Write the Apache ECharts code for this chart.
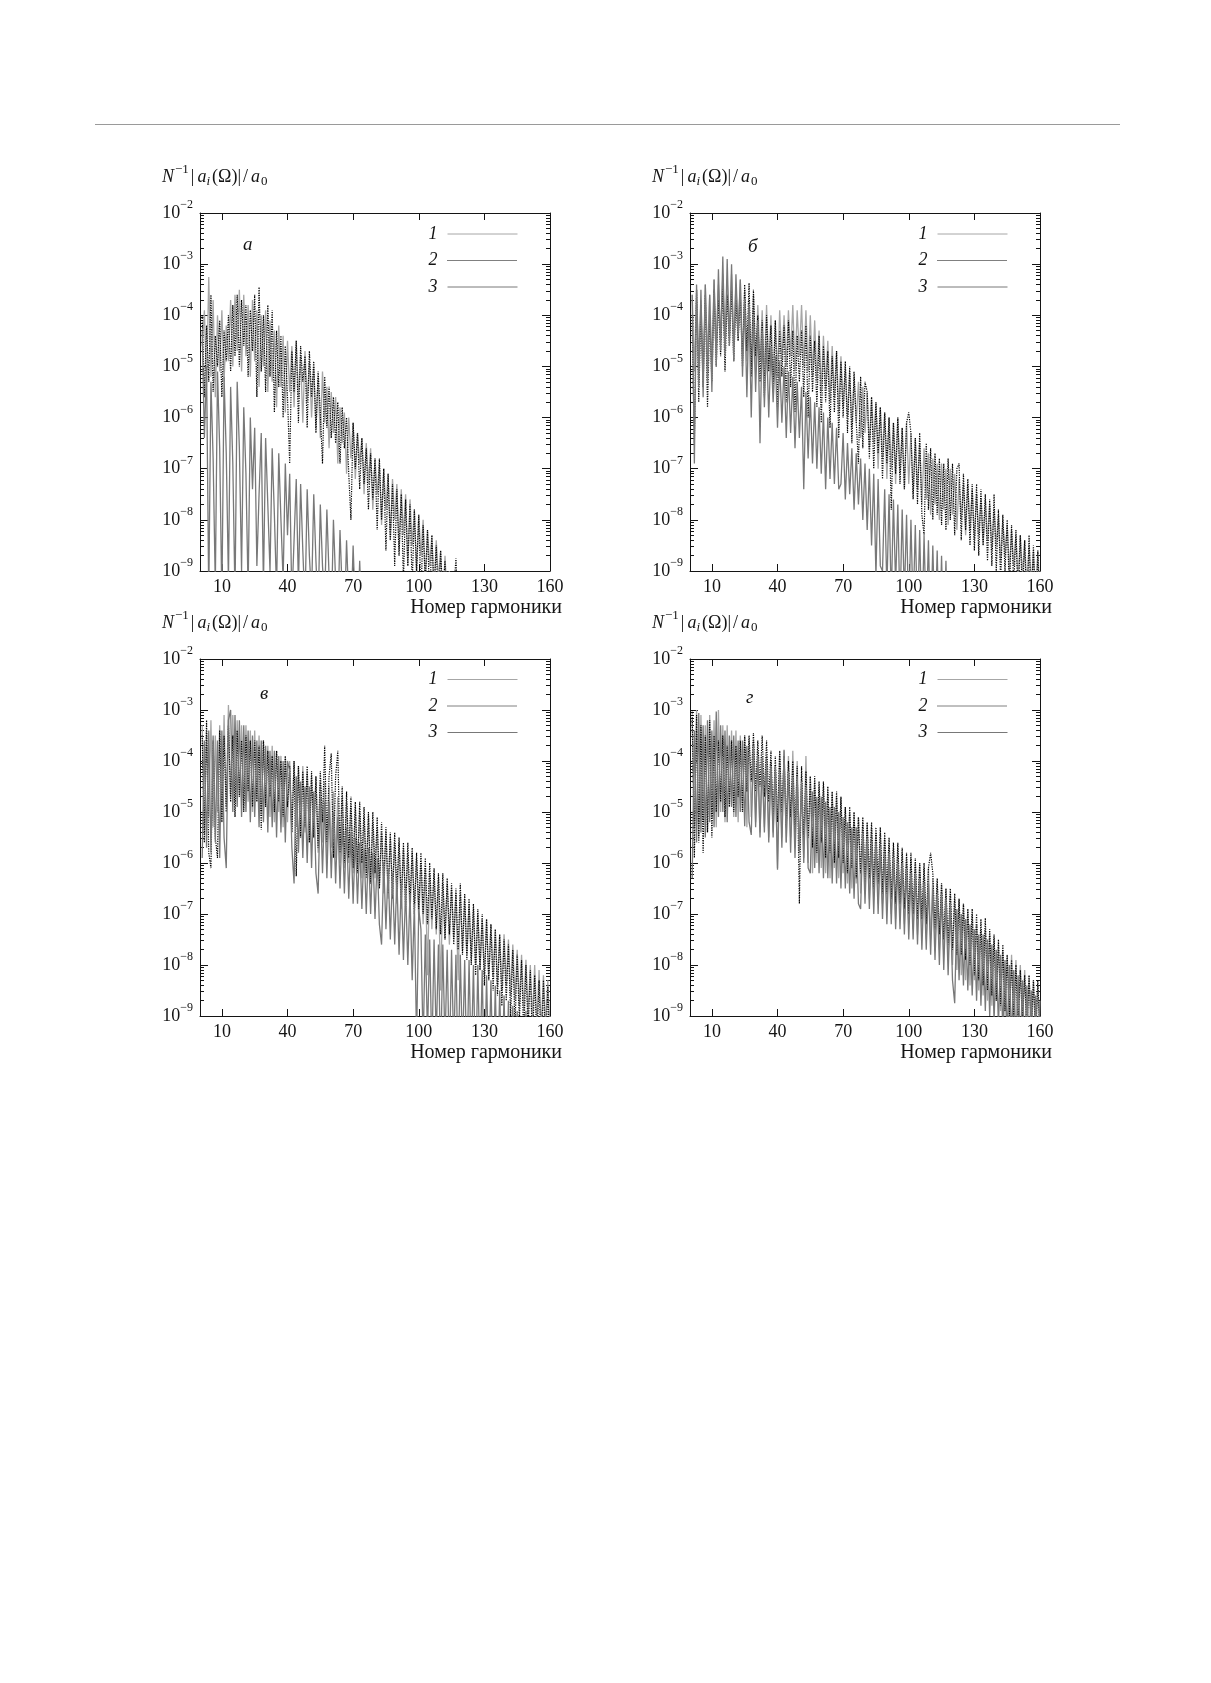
<!DOCTYPE html>
<html><head><meta charset="utf-8">
<script src="https://cdn.jsdelivr.net/npm/echarts@6/dist/echarts.min.js"></script>
<style>
html,body{margin:0;padding:0;background:#fff;}
#chart{width:1211px;height:1683px;}
#rule{position:absolute;left:95px;top:124px;width:1025px;height:1px;background:#9a9a9a;}
</style></head>
<body>
<div id="chart"></div>
<div id="rule"></div>
<script>
// Values are log10( N^-1 |a_i(Omega)| / a_0 ) for harmonic number i = 1, 2, 3, ...
const xTickValues = [10, 40, 70, 100, 130, 160];
const yDecades = [-9, -8, -7, -6, -5, -4, -3, -2];
const panelLetters = ['а', 'б', 'в', 'г'];
const seriesNames = ['1', '2', '3'];
const xAxisTitle = 'Номер гармоники';

// Panel а
const panelA_s1 = [-4.6,-3.9,-5.4,-3.25,-5.2,-3.7,-5.6,-4.0,-5.1,-3.9,
 -5.3,-4.2,-4.9,-3.7,-5.0,-3.6,-4.7,-3.5,-5.1,-3.6,
 -4.8,-3.8,-5.2,-3.7,-4.9,-3.9,-5.4,-4.0,-5.0,-3.9,
 -5.5,-4.1,-5.3,-4.3,-5.8,-4.2,-5.4,-4.4,-5.9,-4.5,
 -5.5,-4.6,-5.8,-4.5,-5.6,-4.8,-6.1,-4.7,-5.7,-4.9,
 -6.0,-5.0,-6.2,-5.2,-6.4,-5.1,-6.1,-5.4,-6.6,-5.5,
 -6.3,-5.6,-6.9,-5.8,-6.5,-5.9,-7.1,-6.0,-6.8,-6.1,
 -7.2,-6.3,-6.9,-6.4,-7.5,-6.5,-7.3,-6.6,-7.8,-6.8,
 -7.5,-6.9,-8.1,-7.0,-7.8,-7.1,-8.4,-7.2,-8.0,-7.3,
 -8.6,-7.4,-8.3,-7.5,-8.9,-7.6,-8.5,-7.8,-9.1,-7.9,
 -8.7,-8.0,-9.3,-8.2,-8.9,-8.3,-9.5,-8.4,-9.2,-8.6,
 -9.7,-8.7,-9.6,-9.0,-10,-9.3,-10,-9.6,-10.2,-10];
const panelA_s2 = [-4.0,-5.6,-4.2,-5.3,-3.6,-5.5,-4.4,-5.0,-4.1,-5.6,
 -4.3,-4.9,-4.0,-5.1,-3.8,-4.8,-3.6,-5.0,-3.7,-4.6,
 -3.8,-5.2,-3.9,-4.7,-3.6,-5.6,-3.45,-5.1,-4.0,-5.5,
 -3.8,-5.2,-3.9,-5.9,-4.3,-5.4,-4.4,-6.0,-4.6,-5.6,
 -6.9,-4.7,-5.5,-4.5,-6.1,-4.6,-5.3,-4.8,-6.2,-4.7,
 -5.6,-4.9,-6.3,-5.1,-5.9,-6.9,-5.2,-6.2,-5.4,-6.4,
 -5.6,-6.5,-5.7,-6.9,-5.8,-6.6,-6.0,-7.1,-8.0,-6.1,
 -7.0,-6.3,-7.4,-6.4,-7.3,-6.6,-7.8,-6.7,-7.6,-6.8,
 -8.2,-6.8,-8.0,-7.0,-8.6,-7.1,-8.4,-7.3,-8.9,-7.4,
 -8.7,-7.5,-9.2,-7.6,-8.9,-7.7,-9.3,-7.8,-9.0,-7.9,
 -9.5,-8.1,-9.2,-8.2,-9.6,-8.3,-9.4,-8.5,-9.8,-8.6,
 -9.5,-8.8,-10,-9.2,-10,-9.4,-8.75,-9.8,-10,-10];
const panelA_s3 = [-4.3,-6.4,-5.0,-9.5,-5.3,-6.8,-9.3,-5.1,-6.6,-9.6,
 -5.2,-6.7,-9.2,-5.4,-6.9,-9.5,-5.3,-6.6,-9.0,-5.8,
 -7.1,-9.4,-6.0,-7.4,-6.2,-8.9,-7.5,-6.3,-9.3,-6.4,
 -7.7,-9.0,-6.6,-7.9,-9.4,-6.7,-8.0,-9.2,-6.9,-8.3,
 -7.1,-9.6,-8.4,-7.2,-9.3,-7.3,-8.6,-9.7,-7.4,-8.7,
 -9.5,-7.5,-8.8,-9.8,-7.7,-8.9,-9.6,-7.8,-9.1,-10,
 -8.0,-9.2,-10,-8.2,-9.4,-10,-8.4,-9.6,-10,-8.5,
 -9.8,-10.2,-8.8,-10,-10.4,-9.3,-10.5,-10.5,-10.8,-11];

// Panel б
const panelB_s1 = [-3.6,-5.1,-3.5,-4.9,-3.7,-5.2,-3.4,-4.8,-3.6,-5.0,
 -3.3,-4.6,-3.4,-4.5,-3.2,-4.7,-3.3,-4.4,-3.2,-4.6,
 -3.4,-4.5,-3.3,-4.8,-3.5,-4.9,-3.7,-5.0,-3.6,-5.1,
 -3.8,-4.9,-3.9,-5.2,-3.8,-5.1,-4.0,-5.3,-4.1,-5.2,
 -3.9,-4.9,-4.0,-5.0,-3.9,-4.8,-3.8,-5.1,-3.9,-4.8,
 -3.8,-5.0,-3.9,-5.1,-4.0,-5.2,-4.1,-5.3,-4.3,-5.5,
 -4.4,-5.4,-4.5,-5.7,-4.6,-5.6,-4.7,-5.9,-4.8,-5.8,
 -5.0,-6.0,-5.1,-6.2,-5.2,-6.1,-5.3,-6.4,-5.4,-6.3,
 -5.5,-6.6,-5.6,-6.5,-5.7,-7.0,-5.8,-6.8,-5.9,-7.2,
 -6.0,-7.0,-6.1,-7.3,-6.0,-7.1,-6.2,-7.4,-6.1,-7.3,
 -6.3,-7.5,-6.4,-7.4,-6.5,-7.7,-6.6,-7.6,-6.7,-7.9,
 -6.8,-7.7,-6.9,-8.0,-6.9,-7.8,-7.0,-8.1,-7.0,-7.9,
 -7.1,-8.2,-7.2,-8.0,-7.3,-8.3,-7.3,-8.2,-7.4,-8.4,
 -7.5,-8.3,-7.6,-8.5,-7.6,-8.4,-7.7,-8.6,-7.8,-8.5,
 -7.9,-8.8,-8.0,-8.7,-8.1,-9.0,-8.2,-8.9,-8.3,-9.2,
 -8.3,-9.1,-8.4,-9.4,-8.5,-9.3,-8.6,-9.6,-8.6,-9.5];
const panelB_s2 = [-4.2,-6.5,-3.5,-5.7,-3.8,-5.4,-3.6,-5.8,-4.0,-5.3,
 -3.5,-5.0,-3.7,-4.8,-3.4,-5.1,-3.6,-4.6,-3.5,-4.9,
 -3.7,-4.5,-3.6,-5.0,-3.4,-4.7,-3.37,-5.2,-3.5,-4.8,
 -4.0,-5.3,-4.1,-5.6,-4.0,-5.1,-4.2,-5.5,-4.1,-5.8,
 -4.3,-5.2,-4.2,-5.7,-4.1,-5.4,-4.3,-5.9,-4.4,-5.3,
 -4.3,-5.6,-4.2,-6.0,-4.4,-5.5,-4.5,-5.8,-4.4,-6.1,
 -4.6,-5.7,-4.7,-6.2,-4.8,-5.9,-4.7,-6.4,-4.9,-6.0,
 -4.9,-6.3,-5.0,-6.5,-5.1,-6.1,-6.9,-5.2,-6.6,-5.3,
 -5.5,-6.8,-5.6,-7.0,-5.7,-6.7,-5.8,-7.2,-5.9,-6.9,
 -6.0,-7.8,-6.1,-7.1,-6.0,-7.3,-6.2,-7.4,-6.1,-5.9,
 -6.3,-7.6,-6.4,-7.7,-6.3,-7.9,-8.3,-6.5,-7.8,-6.6,
 -8.0,-6.7,-7.9,-6.8,-8.1,-6.9,-8.2,-6.8,-8.0,-6.9,
 -8.3,-7.0,-6.9,-8.4,-7.1,-8.2,-7.2,-8.5,-7.3,-8.6,
 -7.3,-8.7,-7.4,-8.5,-7.5,-8.8,-7.6,-8.9,-7.5,-9.0,
 -7.8,-9.2,-7.9,-9.0,-8.0,-9.4,-8.1,-9.3,-8.2,-9.6,
 -8.3,-9.5,-8.4,-9.8,-8.3,-9.7,-8.5,-10,-8.6,-9.9];
const panelB_s3 = [-3.6,-6.9,-3.4,-5.4,-3.5,-5.6,-3.4,-5.3,-3.6,-5.5,
 -3.3,-5.0,-3.1,-4.7,-2.85,-4.8,-2.9,-4.6,-3.0,-4.9,
 -3.2,-4.4,-3.3,-5.2,-3.7,-5.6,-3.8,-6.0,-4.0,-5.5,
 -4.1,-6.5,-4.3,-5.8,-4.5,-6.0,-4.6,-5.7,-4.8,-6.2,
 -4.9,-6.1,-5.0,-6.4,-5.1,-6.3,-5.2,-6.6,-5.3,-6.4,
 -5.4,-7.4,-5.5,-6.8,-5.6,-6.9,-5.7,-7.0,-5.8,-7.1,
 -5.9,-7.4,-6.0,-7.2,-6.1,-7.3,-6.2,-7.4,-7.3,-6.3,
 -7.6,-6.5,-7.5,-6.6,-7.8,-6.7,-7.7,-6.8,-8.0,-6.9,
 -8.2,-7.0,-8.5,-7.1,-9.1,-7.2,-8.9,-9.0,-7.4,-9.4,
 -7.5,-9.6,-7.6,-9.3,-7.7,-9.8,-7.8,-9.5,-7.9,-10,
 -8.0,-9.8,-8.1,-10,-8.2,-10.2,-8.3,-10,-8.4,-10.3,
 -8.5,-10.2,-8.6,-10.5,-8.7,-10.5,-8.8,-10.6,-9.6,-10.8];

// Panel в
const panelC_s1 = [-3.3,-5.4,-3.4,-5.1,-3.2,-5.3,-3.5,-5.0,-3.3,-5.2,
 -3.1,-4.9,-2.9,-4.7,-3.1,-4.8,-3.2,-4.7,-3.3,-4.9,
 -3.3,-4.8,-3.4,-5.0,-3.4,-4.8,-3.5,-5.0,-3.6,-4.9,
 -3.7,-5.1,-3.7,-5.2,-3.8,-5.0,-3.9,-5.3,-3.9,-5.2,
 -4.0,-5.4,-4.0,-5.3,-4.1,-5.5,-4.1,-5.4,-4.2,-5.6,
 -4.3,-5.5,-4.3,-5.8,-4.4,-5.6,-4.4,-5.9,-4.5,-5.7,
 -4.6,-5.9,-4.7,-6.0,-4.7,-6.1,-4.8,-6.0,-4.9,-6.2,
 -4.9,-6.1,-5.0,-6.3,-5.1,-6.2,-5.1,-6.4,-5.2,-6.3,
 -5.3,-6.5,-5.4,-6.6,-5.4,-6.7,-5.5,-6.6,-5.6,-6.8,
 -5.6,-6.9,-5.7,-6.8,-5.8,-7.0,-5.8,-6.9,-5.9,-7.1,
 -6.0,-7.2,-6.1,-8.2,-6.2,-7.3,-6.2,-7.4,-6.3,-8.5,
 -6.4,-7.5,-6.4,-7.6,-6.5,-7.5,-6.6,-8.3,-6.6,-7.7,
 -6.7,-7.8,-6.8,-7.9,-6.9,-8.0,-7.0,-8.1,-7.1,-8.2,
 -7.1,-8.3,-7.2,-8.2,-7.3,-8.4,-7.4,-8.5,-7.4,-8.4,
 -7.5,-8.6,-7.6,-8.7,-7.7,-8.8,-7.8,-8.9,-7.9,-9.0,
 -8.0,-9.1,-8.0,-9.2,-8.1,-9.3,-8.2,-9.2,-8.3,-9.3];
const panelC_s2 = [-3.5,-5.6,-3.2,-5.8,-6.1,-3.6,-5.5,-5.9,-3.4,-5.2,
 -3.5,-5.0,-3.3,-4.8,-3.5,-5.1,-3.4,-4.7,-3.6,-5.0,
 -3.5,-4.6,-3.6,-4.9,-3.6,-4.8,-3.7,-5.35,-3.6,-4.9,
 -3.8,-4.7,-3.9,-5.0,-3.8,-4.8,-4.0,-5.1,-3.9,-4.9,
 -4.1,-5.4,-4.0,-6.26,-4.1,-5.5,-4.2,-5.3,-4.1,-5.6,
 -4.2,-5.5,-4.3,-5.7,-4.2,-5.2,-3.7,-5.6,-4.3,-3.85,
 -5.9,-4.3,-3.8,-5.8,-4.5,-6.0,-4.6,-5.9,-4.7,-6.1,
 -4.8,-6.2,-4.8,-6.0,-4.9,-6.3,-5.0,-6.4,-5.0,-6.2,
 -5.1,-6.5,-5.2,-6.4,-5.3,-6.6,-5.4,-6.7,-5.4,-6.6,
 -5.5,-6.8,-5.6,-6.9,-5.6,-6.8,-5.7,-7.0,-5.8,-6.9,
 -5.8,-7.0,-5.9,-7.2,-6.0,-7.1,-6.1,-7.3,-6.2,-7.4,
 -6.2,-7.5,-6.3,-7.4,-6.4,-7.6,-6.5,-7.7,-6.4,-7.8,
 -6.6,-7.9,-6.7,-8.0,-6.8,-8.2,-6.9,-8.1,-7.0,-8.4,
 -7.1,-8.3,-7.2,-8.5,-7.3,-8.6,-7.4,-8.8,-7.5,-8.7,
 -7.6,-9.0,-7.7,-9.2,-7.8,-9.1,-7.9,-9.4,-8.0,-9.3,
 -8.1,-9.6,-8.2,-9.5,-8.3,-9.8,-8.3,-9.7,-8.4,-10];
const panelC_s3 = [-5.9,-3.6,-5.7,-3.4,-5.8,-3.5,-5.6,-3.6,-5.9,-3.4,
 -5.5,-6.1,-3.2,-3.0,-5.0,-3.1,-4.9,-3.2,-5.1,-3.3,
 -5.0,-3.4,-5.2,-3.5,-5.1,-3.6,-5.3,-3.6,-5.2,-3.7,
 -5.4,-3.8,-5.3,-3.8,-5.5,-3.9,-5.4,-4.0,-5.6,-4.0,
 -4.2,-5.7,-6.4,-4.3,-5.8,-4.4,-5.9,-4.5,-6.0,-4.5,
 -6.1,-4.6,-6.2,-6.6,-4.7,-6.2,-4.8,-6.3,-4.8,-6.3,
 -5.0,-6.4,-5.1,-6.5,-5.2,-6.6,-5.3,-6.7,-5.4,-6.8,
 -5.5,-6.8,-5.6,-6.9,-5.7,-7.0,-5.7,-7.0,-5.8,-7.1,
 -5.9,-7.2,-7.6,-6.0,-7.3,-6.1,-7.5,-6.2,-7.6,-6.3,
 -7.8,-6.4,-7.9,-6.5,-8.0,-6.6,-8.3,-6.8,-9.5,-6.9,
 -7.3,-9.6,-7.4,-9.4,-7.5,-9.8,-7.5,-9.5,-7.6,-10,
 -7.6,-9.6,-7.7,-10,-7.7,-9.7,-7.8,-10.2,-7.8,-9.8,
 -7.9,-10.2,-7.9,-10,-8.0,-10.3,-8.0,-10.1,-8.1,-10.4,
 -8.2,-10.2,-8.3,-10.4,-8.4,-10.5,-8.5,-10.3,-8.6,-10.6,
 -8.7,-10.5,-8.8,-10.8,-8.9,-10.6,-9.1,-11,-8.9,-10.8,
 -9.3,-11,-9.2,-11,-9.5,-11,-9.4,-11,-9.6,-11];

// Panel г
const panelD_s1 = [-3.2,-5.3,-3.0,-5.5,-3.1,-5.2,-3.3,-5.4,-3.1,-5.1,
 -3.2,-5.3,-3.0,-5.0,-3.3,-5.2,-3.3,-4.9,-3.4,-5.1,
 -3.4,-5.2,-3.5,-5.0,-3.5,-5.3,-3.6,-5.1,-3.6,-5.2,
 -3.8,-5.4,-3.9,-5.3,-3.9,-5.5,-4.0,-5.4,-4.1,-6.1,
 -3.8,-5.5,-3.8,-5.6,-3.9,-5.5,-3.8,-5.7,-4.0,-5.8,
 -4.3,-5.9,-3.9,-6.0,-4.3,-6.2,-4.4,-6.0,-4.5,-6.1,
 -4.5,-6.2,-4.6,-6.3,-4.6,-6.1,-4.7,-6.3,-4.7,-6.2,
 -4.9,-6.4,-5.0,-6.5,-5.0,-6.4,-5.1,-6.6,-5.2,-6.5,
 -5.2,-6.7,-5.3,-6.6,-5.4,-6.8,-5.4,-6.8,-5.5,-6.9,
 -5.6,-7.0,-5.7,-7.1,-5.7,-7.0,-5.8,-7.2,-5.9,-7.2,
 -5.9,-7.3,-6.0,-7.4,-6.0,-7.3,-6.1,-7.5,-6.1,-7.5,
 -6.3,-7.6,-6.4,-7.7,-6.4,-7.8,-6.5,-7.9,-6.6,-8.0,
 -6.7,-8.1,-6.7,-8.2,-6.8,-8.3,-6.9,-8.4,-7.0,-8.3,
 -7.2,-8.5,-7.3,-8.6,-7.3,-8.7,-7.4,-8.8,-7.5,-8.7,
 -7.6,-8.9,-7.7,-9.0,-7.8,-9.1,-7.8,-9.2,-7.9,-9.3,
 -8.0,-9.2,-8.1,-9.4,-8.2,-9.5,-8.3,-9.4,-8.4,-9.6];
const panelD_s2 = [-3.0,-5.9,-3.1,-5.6,-3.3,-5.8,-3.5,-5.4,-3.2,-5.5,
 -3.5,-5.0,-3.6,-4.8,-3.5,-5.1,-3.7,-4.9,-3.6,-5.0,
 -3.7,-4.7,-3.6,-5.0,-3.5,-4.6,-3.5,-4.4,-3.45,-4.6,
 -3.6,-4.5,-3.5,-4.7,-3.6,-4.8,-3.8,-5.1,-3.9,-5.2,
 -3.8,-5.0,-3.9,-5.3,-4.0,-5.1,-4.0,-5.4,-4.1,-6.8,
 -4.1,-5.6,-4.2,-5.5,-4.3,-5.7,-4.3,-5.8,-4.4,-5.6,
 -4.4,-5.9,-4.5,-5.8,-4.6,-6.0,-4.6,-5.9,-4.7,-6.0,
 -4.9,-6.2,-4.9,-6.1,-5.0,-6.3,-5.1,-6.2,-5.1,-6.4,
 -5.2,-6.3,-5.2,-6.5,-5.3,-6.4,-5.3,-6.6,-5.4,-6.6,
 -5.5,-6.7,-5.6,-6.8,-5.6,-6.8,-5.7,-6.9,-5.8,-7.0,
 -5.8,-7.0,-5.9,-7.1,-6.0,-7.1,-6.0,-7.2,-6.1,-5.8,
 -6.2,-7.3,-6.3,-7.4,-6.4,-7.5,-6.5,-7.6,-6.5,-7.7,
 -6.6,-7.8,-6.7,-7.8,-6.8,-7.9,-6.9,-8.0,-6.9,-8.2,
 -7.0,-8.3,-7.1,-8.4,-7.08,-8.5,-7.3,-8.6,-7.4,-8.7,
 -7.5,-8.8,-7.6,-8.9,-7.8,-9.0,-7.9,-9.1,-8.0,-9.2,
 -8.1,-9.1,-8.2,-9.3,-8.2,-9.2,-8.3,-9.4,-8.3,-9.3];
const panelD_s3 = [-6.3,-3.4,-5.6,-3.06,-5.4,-3.3,-5.5,-3.2,-5.2,-3.4,
 -5.3,-3.03,-5.1,-3.3,-5.0,-3.4,-5.2,-3.5,-4.9,-3.5,
 -5.1,-3.6,-5.0,-3.6,-5.28,-3.7,-5.2,-5.45,-3.7,-5.3,
 -3.9,-5.5,-4.0,-5.4,-4.0,-5.6,-4.1,-5.5,-4.1,-6.13,
 -4.2,-5.7,-3.78,-5.6,-4.2,-5.8,-4.3,-5.9,-4.3,-5.8,
 -4.4,-6.0,-4.5,-6.1,-6.2,-4.6,-6.1,-4.7,-6.2,-4.7,
 -6.3,-4.8,-6.3,-4.9,-6.4,-4.9,-6.4,-5.0,-6.5,-5.1,
 -6.5,-5.2,-6.6,-5.3,-6.7,-5.3,-6.8,-6.9,-5.4,-6.8,
 -5.5,-6.9,-5.6,-7.0,-5.6,-7.0,-5.7,-7.1,-5.8,-7.2,
 -5.8,-7.2,-5.9,-7.3,-6.0,-7.3,-6.0,-7.4,-6.1,-7.5,
 -6.2,-7.5,-6.2,-7.6,-6.3,-7.7,-6.4,-7.7,-6.4,-7.8,
 -6.5,-7.9,-6.6,-8.0,-6.6,-8.1,-6.7,-8.2,-6.8,-8.3,
 -8.75,-6.9,-8.3,-7.0,-8.4,-7.1,-8.5,-7.2,-8.6,-7.3,
 -8.7,-7.4,-8.8,-7.4,-8.9,-7.5,-9.0,-7.6,-9.1,-7.7,
 -9.2,-7.8,-9.3,-7.9,-9.4,-8.0,-9.5,-8.1,-9.6,-8.2,
 -9.7,-8.3,-9.8,-8.4,-9.9,-8.5,-10,-8.6,-10.1,-8.7];

const panelData = [
  [panelA_s1, panelA_s2, panelA_s3],
  [panelB_s1, panelB_s2, panelB_s3],
  [panelC_s1, panelC_s2, panelC_s3],
  [panelD_s1, panelD_s2, panelD_s3]
];

// ---------- layout / style ----------
const SERIF = '"Liberation Serif", "DejaVu Serif", serif';
const INK = '#141414';
const grids = [
  {left: 200, top: 213, width: 350, height: 358},
  {left: 690, top: 213, width: 350, height: 358},
  {left: 200, top: 659, width: 350, height: 357},
  {left: 690, top: 659, width: 350, height: 357}
];
const letterOffsets = [[43, 22], [58, 24], [60, 25], [56, 29]];
const seriesStyles = [
  {color: '#a6a6a6', width: 1.3, type: 'solid'},
  {color: '#000000', width: 1.2, type: 'dotted'},
  {color: '#787878', width: 1.3, type: 'solid'}
];

const minorTickValues = [];
for (let d = yDecades[0]; d < yDecades[yDecades.length - 1]; d++) {
  for (let k = 2; k <= 9; k++) minorTickValues.push(d + Math.log10(k));
}

const yLabelRich = {
  b: {fontFamily: SERIF, fontWeight: 'normal', fontSize: 18, lineHeight: 18, color: INK},
  s: {fontFamily: SERIF, fontWeight: 'normal', fontSize: 12, lineHeight: 12, padding: [0, 0, 16, 0], color: INK}
};
function tok(extra) {
  return Object.assign({fontFamily: SERIF, fontWeight: 'normal', color: INK}, extra);
}
const titleRich = {
  i: tok({fontStyle: 'italic', fontSize: 18, lineHeight: 18}),
  ip: tok({fontStyle: 'italic', fontSize: 18, lineHeight: 18, padding: [0, 0, 0, 2]}),
  n: tok({fontSize: 18, lineHeight: 18, padding: [0, 1, 0, 1]}),
  s: tok({fontSize: 13, lineHeight: 13, padding: [0, 1, 14, 1]}),
  ui: tok({fontStyle: 'italic', fontSize: 13, lineHeight: 13, padding: [10, 1, 0, 0]}),
  u: tok({fontSize: 13, lineHeight: 13, padding: [10, 0, 0, 1]})
};
const yTitleText = '{i|N}{s|−1}{n||}{ip|a}{ui|i}{n|(Ω)|}{n|/}{ip|a}{u|0}';

const axisLineStyle = {color: INK, width: 1};
const option = {
  backgroundColor: '#ffffff',
  animation: false,
  grid: [], xAxis: [], yAxis: [], series: [], title: [], legend: []
};

grids.forEach((g, i) => {
  option.grid.push({left: g.left, top: g.top, width: g.width, height: g.height, containLabel: false});
  option.xAxis.push({
    gridIndex: i, type: 'value', min: 0, max: 160, position: 'bottom',
    axisLine: {show: true, onZero: false, lineStyle: axisLineStyle},
    axisTick: {show: true, inside: true, length: 7, customValues: xTickValues, lineStyle: axisLineStyle},
    axisLabel: {show: true, customValues: xTickValues, margin: 7, fontFamily: SERIF, fontSize: 18, color: INK},
    splitLine: {show: false},
    name: xAxisTitle, nameLocation: 'end', nameGap: 12,
    nameTextStyle: {fontFamily: SERIF, fontSize: 20, color: INK, align: 'right', verticalAlign: 'top', padding: [27, 0, 0, 0]}
  });
  option.xAxis.push({
    gridIndex: i, type: 'value', min: 0, max: 160, position: 'top',
    axisLine: {show: true, onZero: false, lineStyle: axisLineStyle},
    axisTick: {show: true, inside: true, length: 7, customValues: xTickValues, lineStyle: axisLineStyle},
    axisLabel: {show: false}, splitLine: {show: false}
  });
  option.yAxis.push({
    gridIndex: i, type: 'value', min: -9, max: -2, interval: 1, position: 'left',
    axisLine: {show: true, onZero: false, lineStyle: axisLineStyle},
    axisTick: {show: true, inside: true, length: 8, lineStyle: axisLineStyle},
    axisLabel: {
      show: true, margin: 7,
      formatter: v => '{b|10}{s|' + (v < 0 ? '−' : '') + Math.abs(Math.round(v)) + '}',
      rich: yLabelRich
    },
    splitLine: {show: false}
  });
  option.yAxis.push({
    gridIndex: i, type: 'value', min: -9, max: -2, position: 'left',
    axisLine: {show: false, onZero: false},
    axisTick: {show: true, inside: true, length: 4, customValues: minorTickValues, lineStyle: axisLineStyle},
    axisLabel: {show: false}, splitLine: {show: false}
  });
  option.yAxis.push({
    gridIndex: i, type: 'value', min: -9, max: -2, interval: 1, position: 'right',
    axisLine: {show: true, onZero: false, lineStyle: axisLineStyle},
    axisTick: {show: true, inside: true, length: 8, lineStyle: axisLineStyle},
    axisLabel: {show: false}, splitLine: {show: false}
  });
  option.yAxis.push({
    gridIndex: i, type: 'value', min: -9, max: -2, position: 'right',
    axisLine: {show: false, onZero: false},
    axisTick: {show: true, inside: true, length: 4, customValues: minorTickValues, lineStyle: axisLineStyle},
    axisLabel: {show: false}, splitLine: {show: false}
  });

  panelData[i].forEach((arr, s) => {
    const st = seriesStyles[s];
    option.series.push({
      type: 'line', name: seriesNames[s],
      xAxisIndex: 2 * i, yAxisIndex: 4 * i,
      data: arr.map((v, k) => [k + 1, v]),
      symbol: 'none', showSymbol: false, clip: true, silent: true,
      lineStyle: {color: st.color, width: st.width, type: st.type},
      itemStyle: {color: st.color},
      emphasis: {disabled: true},
      z: 2 + s
    });
  });

  option.title.push({
    text: yTitleText, left: g.left - 38, top: g.top - 45, padding: 0,
    textStyle: {fontWeight: 'normal', rich: titleRich}
  });
  option.title.push({
    text: panelLetters[i], left: g.left + letterOffsets[i][0], top: g.top + letterOffsets[i][1], padding: 0,
    textStyle: {fontFamily: SERIF, fontStyle: 'italic', fontWeight: 'normal', fontSize: 19, lineHeight: 20, color: INK}
  });
  option.legend.push({
    data: seriesNames, orient: 'vertical', align: 'right', selectedMode: false,
    right: 1211 - (g.left + 318), top: g.top + 12 + (i >= 2 ? -0.5 : 0),
    padding: 0, itemWidth: 70, itemHeight: 10, itemGap: 8.5,
    itemStyle: {opacity: 0, borderWidth: 0},
    lineStyle: {width: 1},
    textStyle: {fontFamily: SERIF, fontStyle: 'italic', fontSize: 18, lineHeight: 18, color: INK, padding: [0, 5, 0, 0]}
  });
});

const chart = echarts.init(document.getElementById('chart'), null, {renderer: 'canvas'});
chart.setOption(option);
</script>
</body></html>
